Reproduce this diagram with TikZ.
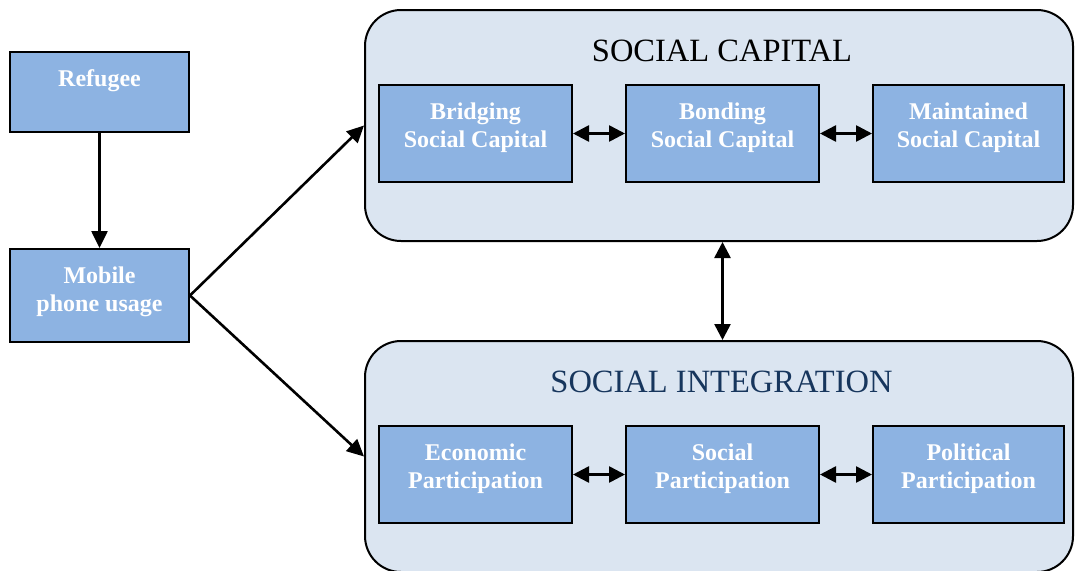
\documentclass[tikz,border=0pt]{standalone}
\usepackage{fontspec}
\setmainfont{Liberation Serif}
\usetikzlibrary{arrows.meta}
\definecolor{boxfill}{HTML}{8DB3E2}
\definecolor{contfill}{HTML}{DBE5F1}
\definecolor{navy}{HTML}{17365D}
\tikzset{
  box/.style={draw=black, line width=2pt, fill=boxfill, rectangle, inner sep=0pt},
  cont/.style={draw=black, line width=2pt, fill=contfill, rectangle, rounded corners=36pt, minimum width=708pt, minimum height=231pt, inner sep=0pt},
  lbl/.style={anchor=base, inner sep=0pt, text=white, font=\bfseries\fontsize{24}{28}\selectfont},
  ttl/.style={anchor=base, inner sep=0pt, font=\fontsize{32.5}{36}\selectfont},
  arr/.style={line width=2.6pt, -{Triangle[length=17pt,width=16pt]}},
  darr/.style={line width=2.6pt, {Triangle[length=16pt,width=16pt]}-{Triangle[length=16pt,width=16pt]}},
}
\newcommand{\twolines}[2]{\begin{tabular}[t]{@{}c@{}}#1\\#2\end{tabular}}
\begin{document}
\begin{tikzpicture}[x=1pt,y=-1pt]
\useasboundingbox (0,0) rectangle (1075,570);
\clip (0,0) rectangle (1075,570);
% containers
\node[cont] (sc) at (719,125.5) {};
\node[cont] (si) at (719,456.5) {};
\node[ttl] (sct) at ([xshift=3pt,yshift=-52pt]sc.north) {SOCIAL CAPITAL};
\node[ttl, text=navy] (sit) at ([xshift=2.5pt,yshift=-52pt]si.north) {SOCIAL INTEGRATION};
% left boxes
\node[box, minimum width=179pt, minimum height=80pt] (ref) at (99.5,92) {};
\node[box, minimum width=179pt, minimum height=93pt] (mob) at (99.5,295.5) {};
\node[lbl] (reft) at ([yshift=-35pt]ref.north) {Refugee};
\node[lbl] (mobt) at ([yshift=-35pt]mob.north) {\twolines{Mobile}{phone usage}};
% social capital boxes
\node[box, minimum width=193pt, minimum height=97pt] (bri) at (475.5,133.5) {};
\node[box, minimum width=193pt, minimum height=97pt] (bon) at (722.5,133.5) {};
\node[box, minimum width=191pt, minimum height=97pt] (mai) at (968.5,133.5) {};
\node[lbl] (brit) at ([yshift=-35pt]bri.north) {\twolines{Bridging}{Social Capital}};
\node[lbl] (bont) at ([yshift=-35pt]bon.north) {\twolines{Bonding}{Social Capital}};
\node[lbl] (mait) at ([yshift=-35pt]mai.north) {\twolines{Maintained}{Social Capital}};
% social integration boxes
\node[box, minimum width=193pt, minimum height=97pt] (eco) at (475.5,474.5) {};
\node[box, minimum width=193pt, minimum height=97pt] (soc) at (722.5,474.5) {};
\node[box, minimum width=191pt, minimum height=97pt] (pol) at (968.5,474.5) {};
\node[lbl] (ecot) at ([yshift=-35pt]eco.north) {\twolines{Economic}{Participation}};
\node[lbl] (soct) at ([yshift=-35pt]soc.north) {\twolines{Social}{Participation}};
\node[lbl] (polt) at ([yshift=-35pt]pol.north) {\twolines{Political}{Participation}};
% connectors
\draw[arr] (ref) -- (mob);
\draw[arr] (mob.east) -- (sc.west);
\draw[arr] (mob.east) -- (si.west);
\draw[darr] (bon.south |- sc.south) -- (bon.south |- si.north);
\draw[darr] (bri) -- (bon);
\draw[darr] (bon) -- (mai);
\draw[darr] (eco) -- (soc);
\draw[darr] (soc) -- (pol);
\end{tikzpicture}
\end{document}
